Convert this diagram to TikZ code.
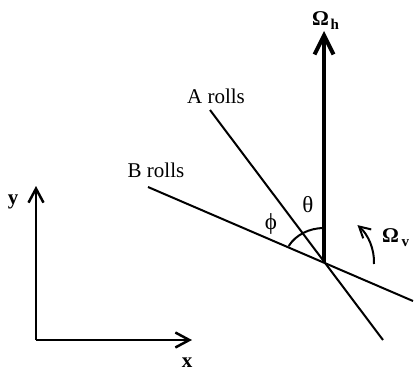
\documentclass[tikz,border=0pt]{standalone}
\usepackage{fontspec}
\setmainfont{Liberation Serif}
\usetikzlibrary{arrows.meta}
\begin{document}
\begin{tikzpicture}[x=1pt,y=-1pt,
  thinline/.style={line width=2pt},
  axisline/.style={line width=2.5pt, -{Straight Barb[length=14pt,width=15pt]}},
  bigarrow/.style={line width=4pt, -{Straight Barb[length=19pt,width=19pt]}},
  smallarrow/.style={line width=2pt, -{Straight Barb[length=11pt,width=12pt]}},
  txt/.style={font=\fontsize{21}{24}\selectfont, inner sep=0pt},
  greek/.style={font=\fontsize{23}{26}\selectfont, inner sep=0pt},
  omtxt/.style={font=\fontsize{21}{24}\selectfont\bfseries, inner sep=0pt, anchor=base west}]
\useasboundingbox (0,0) rectangle (414,377);
% key points
\coordinate (P) at (324,262);
\coordinate (Atop) at (210,110);
\coordinate (Abot) at (383,340);
\coordinate (Bleft) at (148,187);
\coordinate (Bright) at (413,301);
\coordinate (Htip) at (324,31);
\coordinate (O) at (36,340);
\coordinate (Ytip) at (36,186);
\coordinate (Xtip) at (192,340);
\coordinate (arcS) at (324,228);
\coordinate (rotS) at (374,264);
% roll lines
\draw[thinline] (Atop) -- (Abot);
\draw[thinline] (Bleft) -- (Bright);
% Omega_h vector
\draw[bigarrow] (P) -- (Htip);
% angle arc
\draw[thinline] (arcS) arc[start angle=90, end angle=152, x radius=40pt, y radius=34pt];
% Omega_v rotation arrow
\draw[smallarrow] (rotS) arc[start angle=-2, end angle=48, radius=50pt];
% axes
\draw[axisline] (O) -- (Ytip);
\draw[axisline] (O) -- (Xtip);
% labels
\node[txt, anchor=base] (A) at (216,103) {A rolls};
\node[txt, anchor=base] (B) at (156,177) {B rolls};
\node[greek] (th) at (308,205) {θ};
\node[greek] (ph) at (271,224) {ϕ};
\node[txt, anchor=base] (ylab) at (13,204) {\textbf{y}};
\node[txt, anchor=base] (xlab) at (187,367) {\textbf{x}};
\node[omtxt] (Oh) at (312,26) {Ω\hspace{1.5pt}\raisebox{-4pt}{\fontsize{15}{15}\selectfont h}};
\node[omtxt] (Ov) at (382,242) {Ω\hspace{2.5pt}\raisebox{-4pt}{\fontsize{15}{15}\selectfont v}};
\end{tikzpicture}
\end{document}
